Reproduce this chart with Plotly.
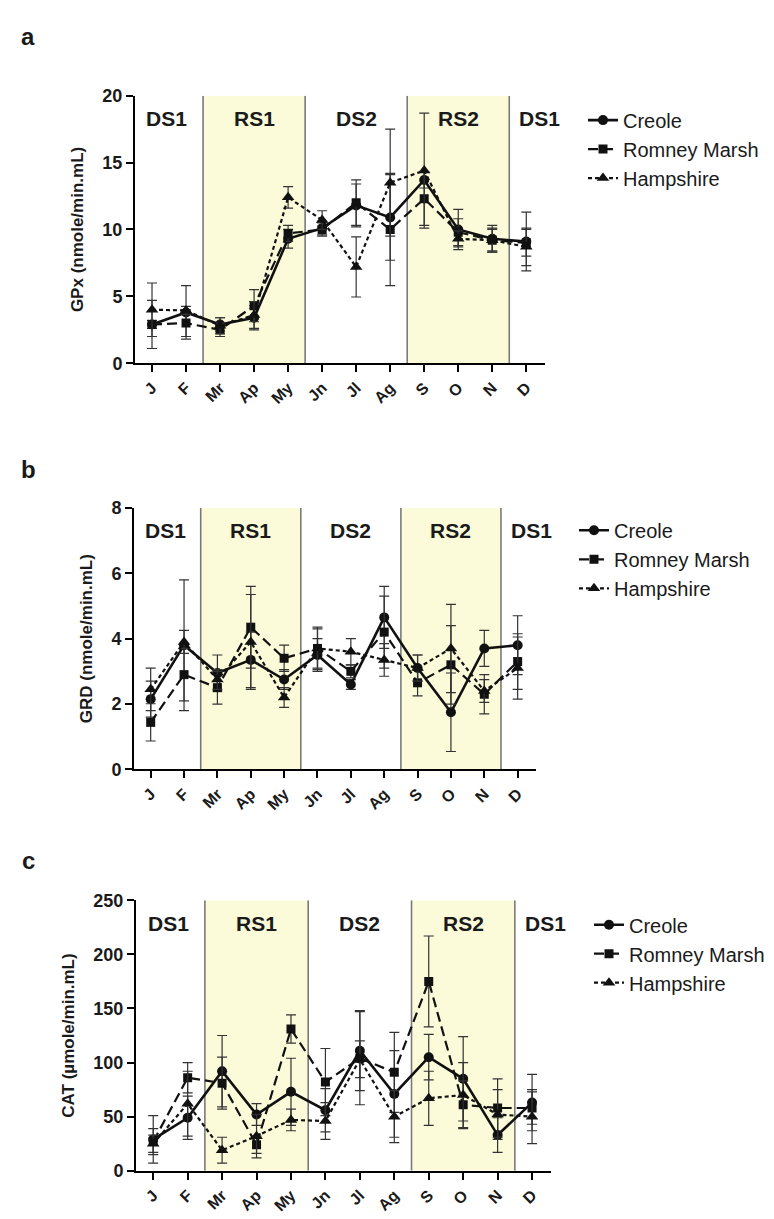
import plotly.graph_objects as go

months = ["J", "F", "Mr", "Ap", "My", "Jn", "Jl", "Ag", "S", "O", "N", "D"]
month_x = list(range(1, 13))
series_names = ["Creole", "Romney Marsh", "Hampshire"]
season_labels = ["DS1", "RS1", "DS2", "RS2", "DS1"]
season_label_x = [1.43, 4, 7, 10, 12.4]
season_bounds = [2.5, 5.5, 8.5, 11.5]
rainy_spans = [(2.5, 5.5), (8.5, 11.5)]

# Panel a: GPx
gpx_creole = [2.9, 3.8, 2.9, 3.4, 9.3, 10.1, 11.8, 10.9, 13.7, 10.0, 9.3, 9.1]
gpx_creole_err = [0.3, 2.0, 0.5, 0.9, 0.7, 0.5, 1.6, 3.2, 0.6, 1.5, 1.0, 2.2]
gpx_romney = [2.9, 3.0, 2.5, 4.3, 9.7, 10.0, 12.0, 10.0, 12.3, 9.8, 9.2, 9.0]
gpx_romney_err = [1.8, 1.0, 0.5, 1.2, 0.6, 0.5, 1.7, 4.2, 2.0, 1.0, 0.9, 1.0]
gpx_hamp = [4.0, 3.95, 2.8, 3.6, 12.4, 10.7, 7.2, 13.5, 14.4, 9.3, 9.2, 8.7]
gpx_hamp_err = [2.0, 0.3, 0.6, 1.0, 0.8, 0.7, 2.25, 4.0, 4.3, 0.6, 0.8, 1.4]

# Panel b: GRD
grd_creole = [2.15, 3.8, 2.95, 3.35, 2.75, 3.5, 2.6, 4.65, 3.1, 1.75, 3.7, 3.8]
grd_creole_err = [0.55, 2.0, 0.55, 0.85, 0.3, 0.5, 0.15, 0.95, 0.4, 1.2, 0.55, 0.9]
grd_romney = [1.44, 2.9, 2.5, 4.35, 3.4, 3.7, 3.0, 4.2, 2.65, 3.2, 2.3, 3.3]
grd_romney_err = [0.57, 0.8, 0.5, 1.25, 0.4, 0.65, 0.2, 1.1, 0.4, 1.2, 0.6, 0.85]
grd_hamp = [2.45, 3.9, 2.75, 3.9, 2.2, 3.7, 3.6, 3.35, 3.1, 3.7, 2.4, 3.1]
grd_hamp_err = [0.65, 0.35, 0.3, 1.45, 0.3, 0.6, 0.4, 0.5, 0.4, 1.35, 0.35, 0.95]

# Panel c: CAT
cat_creole = [29, 49, 92, 52, 73, 56, 111, 71, 105, 85, 33, 63]
cat_creole_err = [22, 20, 33, 10, 31, 20, 37, 40, 21, 39, 16, 26]
cat_romney = [27, 86, 81, 24, 131, 82, 104, 91, 175, 61, 58, 58]
cat_romney_err = [12, 14, 24, 8, 13, 31, 43, 37, 42, 22, 27, 15]
cat_hamp = [25, 62, 19, 32, 47, 46, 103, 50, 67, 70, 52, 50]
cat_hamp_err = [8, 30, 12, 20, 10, 17, 17, 24, 25, 30, 23, 25]

FONT = "Liberation Sans, Arial, sans-serif"
W, H = 774, 1219

panels = [
    dict(letter="a", title="GPx (nmole/min.mL)", yr=[0, 20], dtick=5,
         data=[(gpx_creole, gpx_creole_err), (gpx_romney, gpx_romney_err), (gpx_hamp, gpx_hamp_err)],
         xpx=(127, 537), ypx=(79, 351), letter_y=19, leg_x=575, leg_y=84),
    dict(letter="b", title="GRD (nmole/min.mL)", yr=[0, 8], dtick=2,
         data=[(grd_creole, grd_creole_err), (grd_romney, grd_romney_err), (grd_hamp, grd_hamp_err)],
         xpx=(126, 528), ypx=(498, 764), letter_y=459, leg_x=566, leg_y=501),
    dict(letter="c", title="CAT (µmole/min.mL)", yr=[0, 250], dtick=50,
         data=[(cat_creole, cat_creole_err), (cat_romney, cat_romney_err), (cat_hamp, cat_hamp_err)],
         xpx=(128, 543), ypx=(897, 1172), letter_y=857, leg_x=581, leg_y=902),
]

styles = [
    dict(symbol="circle", size=10, dash="solid", width=2.6),
    dict(symbol="square", size=9, dash="10px,5px", width=2.2),
    dict(symbol="triangle-up", size=11, dash="4px,3px", width=2.2),
]

fig = go.Figure()
layout = dict(width=W, height=H, margin=dict(l=0, r=0, t=0, b=0),
              paper_bgcolor="white", plot_bgcolor="rgba(0,0,0,0)",
              font=dict(family=FONT, color="#1a1a1a"))
shapes, annotations = [], []

for i, p in enumerate(panels):
    n = "" if i == 0 else str(i + 1)
    xa, ya = "xaxis" + n, "yaxis" + n
    xr, yr_ = "x" + n, "y" + n
    leg = "legend" + n
    x0, x1 = p["xpx"]
    ytop, ybot = p["ypx"]
    layout[xa] = dict(domain=[x0 / W, x1 / W], range=[0.5, 12.55], anchor=yr_,
                      tickvals=month_x, ticktext=months, tickangle=-45,
                      showline=True, linecolor="black", linewidth=2,
                      ticks="outside", ticklen=7, tickwidth=2, tickcolor="black",
                      showgrid=False, zeroline=False,
                      tickfont=dict(family=FONT, size=16, color="#1a1a1a", weight="bold"))
    layout[ya] = dict(domain=[1 - ybot / H, 1 - ytop / H], range=p["yr"], anchor=xr,
                      dtick=p["dtick"], tick0=0,
                      showline=True, linecolor="black", linewidth=2,
                      ticks="outside", ticklen=7, tickwidth=2, tickcolor="black",
                      showgrid=False, zeroline=False,
                      tickfont=dict(family=FONT, size=18, color="#1a1a1a", weight="bold"),
                      title=dict(text=p["title"], standoff=14,
                                 font=dict(family=FONT, size=17, color="#1a1a1a", weight="bold")))
    layout[leg] = dict(x=p["leg_x"] / W, y=1 - p["leg_y"] / H, xanchor="left", yanchor="top",
                       xref="paper", yref="paper", bgcolor="rgba(0,0,0,0)", itemwidth=30,
                       font=dict(family=FONT, size=20, color="#1a1a1a"), tracegroupgap=0)
    for a, b in rainy_spans:
        shapes.append(dict(type="rect", xref=xr, yref=yr_, x0=a, x1=b, y0=p["yr"][0], y1=p["yr"][1],
                           fillcolor="#FBFBDA", line=dict(width=0), layer="below"))
    for bx in season_bounds:
        shapes.append(dict(type="line", xref=xr, yref=yr_, x0=bx, x1=bx, y0=p["yr"][0], y1=p["yr"][1],
                           line=dict(color="#7a7a7a", width=1.6), layer="below"))
    for lab, lx in zip(season_labels, season_label_x):
        annotations.append(dict(text=lab, x=lx, xref=xr, y=1, yref=yr_ + " domain", yshift=-23,
                                yanchor="middle", xanchor="center", showarrow=False,
                                font=dict(family=FONT, size=21, color="#1a1a1a", weight="bold")))
    annotations.append(dict(text=p["letter"], x=20 / W, y=1 - p["letter_y"] / H, xref="paper", yref="paper",
                            xanchor="center", yanchor="middle", showarrow=False,
                            font=dict(family=FONT, size=24, color="#1a1a1a", weight="bold")))
    for (vals, errs), name, st in zip(p["data"], series_names, styles):
        fig.add_trace(go.Scatter(
            x=month_x, y=vals, name=name, mode="lines+markers", xaxis=xr, yaxis=yr_, legend=leg,
            line=dict(color="#111111", width=st["width"], dash=st["dash"]),
            marker=dict(symbol=st["symbol"], size=st["size"], color="#111111"),
            error_y=dict(type="data", array=errs, visible=True, color="#333333", thickness=1.2, width=5),
            showlegend=True))

layout["shapes"] = shapes
layout["annotations"] = annotations
fig.update_layout(**layout)
fig.write_html("out.html")
